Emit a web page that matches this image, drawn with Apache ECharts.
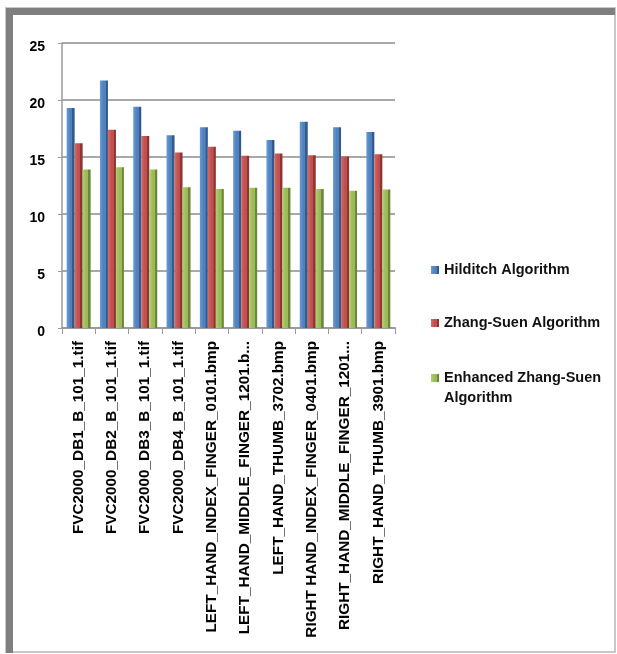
<!DOCTYPE html>
<html>
<head>
<meta charset="utf-8">
<script src="https://cdn.jsdelivr.net/npm/echarts@6/dist/echarts.min.js"></script>
<style>
  html, body { margin: 0; padding: 0; background: #fff; }
  #chart { width: 617px; height: 654px; }
</style>
</head>
<body>
<div id="chart"></div>
<script>
const categories = [
  'FVC2000_DB1_B_101_1.tif',
  'FVC2000_DB2_B_101_1.tif',
  'FVC2000_DB3_B_101_1.tif',
  'FVC2000_DB4_B_101_1.tif',
  'LEFT_HAND_INDEX_FINGER_0101.bmp',
  'LEFT_HAND_MIDDLE_FINGER_1201.b...',
  'LEFT_HAND_THUMB_3702.bmp',
  'RIGHT HAND_INDEX_FINGER_0401.bmp',
  'RIGHT_HAND_MIDDLE_FINGER_1201...',
  'RIGHT_HAND_THUMB_3901.bmp'
];
const hilditch = [19.3, 21.7, 19.4, 16.9, 17.6, 17.3, 16.5, 18.1, 17.6, 17.2];
const zhangSuen = [16.2, 17.4, 16.85, 15.4, 15.9, 15.1, 15.3, 15.15, 15.05, 15.25];
const enhanced = [13.9, 14.1, 13.9, 12.35, 12.2, 12.3, 12.3, 12.2, 12.05, 12.15];
const seriesNames = ['Hilditch Algorithm', 'Zhang-Suen Algorithm', 'Enhanced Zhang-Suen Algorithm'];

const chart = echarts.init(document.getElementById('chart'), null, { renderer: 'canvas' });

// face colour with a darker strip on the right to fake the 3D side
function barFill(light, main, dark) {
  return new echarts.graphic.LinearGradient(0, 0, 1, 0, [
    { offset: 0, color: light },
    { offset: 0.45, color: main },
    { offset: 0.7, color: main },
    { offset: 0.72, color: dark },
    { offset: 1, color: dark }
  ]);
}

const fills = [
  barFill('#6b9bd6', '#4f81bd', '#34598a'),
  barFill('#d56a66', '#c0504d', '#8c3533'),
  barFill('#b0cf6e', '#9bbb59', '#6d873a')
];

const legendText = { fontFamily: 'Liberation Sans', fontWeight: 'bold', fontSize: 14.5, color: '#111', lineHeight: 20 };
const legendBase = { orient: 'vertical', left: 431, padding: 0, itemWidth: 8, itemHeight: 8, icon: 'rect', textStyle: legendText };

chart.setOption({
  backgroundColor: '#fff',
  animation: false,
  graphic: [
    { type: 'rect', shape: { x: 6, y: 8, width: 609, height: 644 }, style: { fill: 'none', stroke: '#c8c8c8', lineWidth: 2 } },
    { type: 'rect', shape: { x: 6, y: 8, width: 609, height: 7 }, style: { fill: '#7f7f7f' } },
    { type: 'rect', shape: { x: 6, y: 8, width: 7, height: 645 }, style: { fill: '#7f7f7f' } }
  ],
  grid: { left: 62, right: 222, top: 43, bottom: 326 },
  legend: [
    Object.assign({}, legendBase, { data: [seriesNames[0]], top: 260 }),
    Object.assign({}, legendBase, { data: [seriesNames[1]], top: 313 }),
    // blank first line keeps the marker level with the first text line
    Object.assign({}, legendBase, {
      data: [seriesNames[2]], top: 348,
      formatter: () => '\nEnhanced Zhang-Suen\nAlgorithm'
    })
  ],
  xAxis: {
    type: 'category',
    data: categories,
    axisLine: { lineStyle: { color: '#9a9a9a', width: 2 } },
    axisTick: { show: true, length: 6, lineStyle: { color: '#9a9a9a' } },
    axisLabel: {
      interval: 0, rotate: 90, margin: 13,
      fontFamily: 'Liberation Sans', fontWeight: 'bold', fontSize: 15.3, color: '#000'
    }
  },
  yAxis: {
    type: 'value',
    min: 0, max: 25, interval: 5,
    axisLine: { show: true, lineStyle: { color: '#9a9a9a', width: 1.5 } },
    axisTick: { show: true, length: 4, lineStyle: { color: '#9a9a9a' } },
    axisLabel: {
      margin: 17, verticalAlign: 'top', lineHeight: 8,
      fontFamily: 'Liberation Sans', fontWeight: 'bold', fontSize: 14, color: '#000'
    },
    splitLine: { lineStyle: { color: '#a8a8a8', width: 2 } }
  },
  series: [hilditch, zhangSuen, enhanced].map((vals, i) => ({
    name: seriesNames[i],
    type: 'bar',
    data: vals,
    barWidth: 8,
    barGap: '0%',
    itemStyle: { color: fills[i] }
  })),
  color: ['#4f81bd', '#c0504d', '#9bbb59']
});
</script>
</body>
</html>
